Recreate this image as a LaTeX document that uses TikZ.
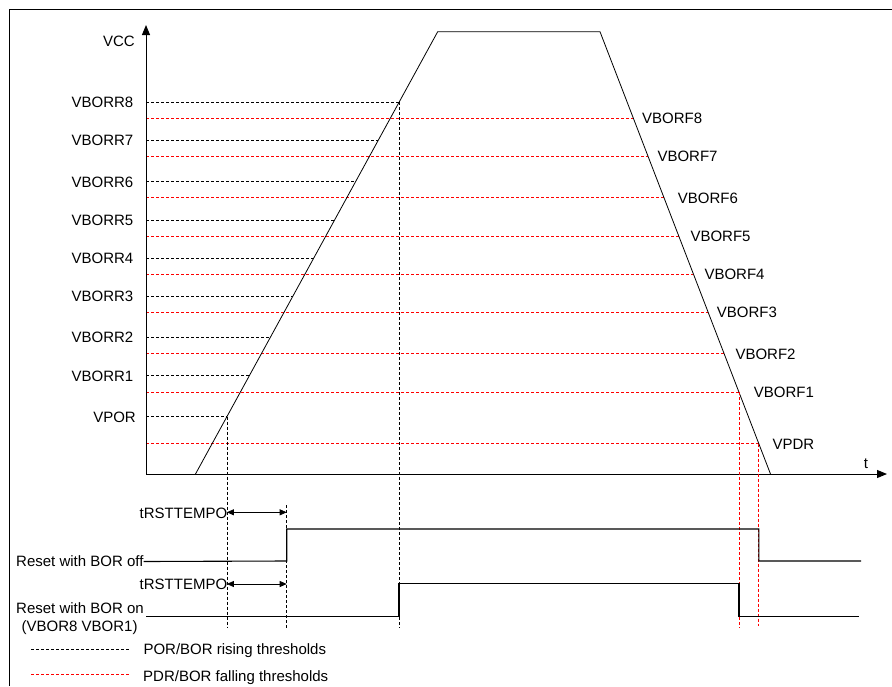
\documentclass[tikz,border=0pt]{standalone}
\usepackage{fontspec}
\setmainfont{Liberation Sans}
\usetikzlibrary{arrows.meta,calc}
\begin{document}
\begin{tikzpicture}[x=1pt,y=-1pt,
  lbl/.style={font=\fontsize{15}{18}\selectfont, inner sep=0pt, text height=10.7pt, text depth=0pt},
  rise/.style={draw=black, dash pattern=on 3pt off 2pt, line width=0.7pt},
  fall/.style={draw=red, dash pattern=on 3pt off 2pt, line width=0.7pt},
  sig/.style={draw=black, line width=1.1pt},
  ramp/.style={draw=black, line width=0.8pt},
  axisarrow/.style={line width=1pt, -{Triangle[length=10pt,width=8pt]}},
  dimarrow/.style={line width=0.8pt, {Triangle[length=7pt,width=6pt]}-{Triangle[length=7pt,width=6pt]}},
]
\useasboundingbox (0,0) rectangle (892,686);
\draw[line width=1pt] (9,686) -- (9,9.5) -- (892,9.5);

% ramp
\coordinate (R0) at (195.5,474);
\coordinate (R1) at (437.7,31.7);
\coordinate (F1) at (600,31.7);
\coordinate (F0) at (770.5,474);

% rising thresholds
\foreach \y/\nm/\lx in {102.3/VBORR8/133.5,140.3/VBORR7/133.5,181.7/VBORR6/133.5,220/VBORR5/133.5,258/VBORR4/133.5,296.3/VBORR3/133.5,337.3/VBORR2/133.5,375.7/VBORR1/133.5,416.7/VPOR/136}{
  \node[lbl,anchor=east] (L\nm) at (\lx,\y) {\nm};
  \coordinate (P\nm) at ({195.5+(474-\y)*0.5476},\y);
  \draw[rise] (146,\y) -- (P\nm);
}
% falling thresholds
\foreach \y/\nm/\lx in {118.3/VBORF8/642,156.3/VBORF7/657.3,197.7/VBORF6/677.7,236.3/VBORF5/690.3,274/VBORF4/704.3,312.3/VBORF3/716.7,353.7/VBORF2/735.3,392.3/VBORF1/753.7,443.7/VPDR/772.3}{
  \node[lbl,anchor=west] (L\nm) at (\lx,\y) {\nm};
  \coordinate (P\nm) at ({600+(\y-31.7)*0.38548},\y);
  \draw[fall] (146,\y) -- (P\nm);
}

\draw[ramp] (R0) -- (R1) -- (F1) -- (F0);

% axes
\coordinate (O) at (146,474);
\coordinate (Ytip) at (146,25);
\coordinate (Xtip) at (887,474);
\draw[axisarrow] (O) -- (Ytip);
\draw[axisarrow] (O) -- (Xtip);
\node[lbl,anchor=east] (vcc) at (135,40.7) {VCC};
\node[lbl] (tlbl) at (866,463.3) {t};

% vertical markers
\coordinate (Bpor) at (PVPOR |- 0,628);
\coordinate (B8) at (PVBORR8 |- 0,628);
\coordinate (Tt) at (286.7,505);
\coordinate (Bt) at (286.7,628);
\coordinate (Bf1) at (PVBORF1 |- 0,628);
\coordinate (Bpdr) at (PVPDR |- 0,626);
\draw[rise] (PVPOR) -- (Bpor);
\draw[rise] (PVBORR8) -- (B8);
\draw[rise] (Tt) -- (Bt);
\draw[fall] (PVBORF1) -- (Bf1);
\draw[fall] (PVPDR) -- (Bpdr);

% reset with BOR off
\node[lbl,anchor=west] (roff) at (16,561.5) {Reset with BOR off};
\draw[sig] (roff.east) -- (286.7,561) -- (286.7,529) -- (PVPDR |- 0,529) -- (PVPDR |- 0,561) -- (861,561);
% reset with BOR on
\node[lbl,anchor=west] (ron) at (16,608.3) {Reset with BOR on};
\node[lbl,anchor=west] (ron2) at (21.5,625.7) {(VBOR8 VBOR1)};
\draw[sig] (146,616.3) -- (PVBORR8 |- 0,616.3) -- (PVBORR8 |- 0,583.7) -- (PVBORF1 |- 0,583.7) -- (PVBORF1 |- 0,616.3) -- (858.7,616.3);

% tRSTTEMPO
\coordinate (a1) at (PVPOR |- 0,512.3);
\coordinate (a2) at (286.7,512.3);
\coordinate (b1) at (PVPOR |- 0,584);
\coordinate (b2) at (286.7,584);
\draw[dimarrow] (a1) -- (a2);
\draw[dimarrow] (b1) -- (b2);
\node[lbl,anchor=east] (t1) at ([xshift=0.5pt]a1 |- 0,513.3) {tRSTTEMPO};
\node[lbl,anchor=east] (t2) at ([xshift=0.5pt]b1 |- 0,584.5) {tRSTTEMPO};

% legend
\coordinate (g1a) at (31,649.3);
\coordinate (g1b) at (129,649.3);
\coordinate (g2a) at (31,674.3);
\coordinate (g2b) at (129,674.3);
\draw[rise] (g1a) -- (g1b);
\draw[fall] (g2a) -- (g2b);
\node[lbl,anchor=west] (leg1) at (143.3,649.5) {POR/BOR rising thresholds};
\node[lbl,anchor=west] (leg2) at (143,676) {PDR/BOR falling thresholds};
\end{tikzpicture}
\end{document}
